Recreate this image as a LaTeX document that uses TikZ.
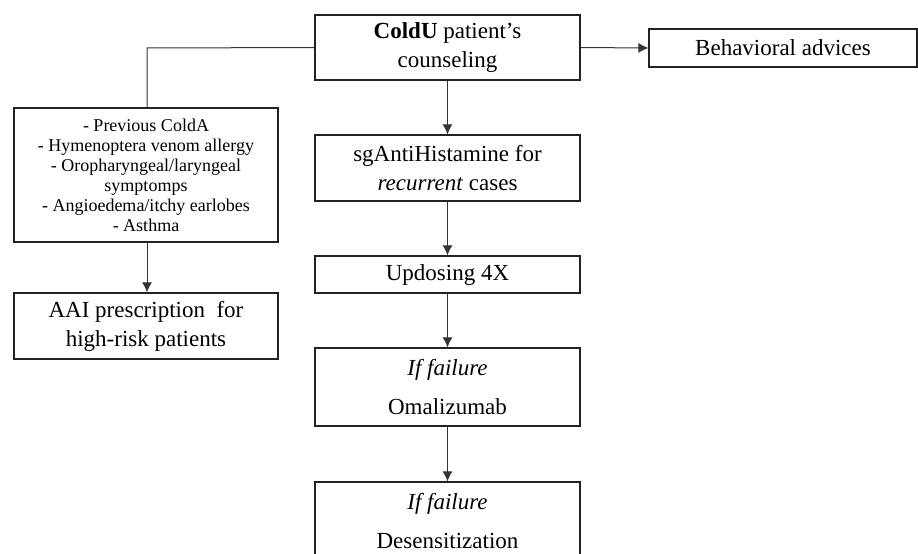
\documentclass[tikz,border=0pt]{standalone}
\usepackage{fontspec}
\setmainfont{Liberation Serif}
\usetikzlibrary{arrows.meta}
\definecolor{boxline}{HTML}{222222}
\definecolor{conn}{HTML}{333333}
\tikzset{
  flowbox/.style={draw=boxline, line width=1.3pt, fill=white, align=center, inner sep=0pt, font=\fontsize{23}{29}\selectfont},
  conline/.style={draw=conn, line width=1pt},
  conarrow/.style={conline, -{Latex[length=10pt,width=10pt]}},
}
\begin{document}
\begin{tikzpicture}[x=1pt,y=-1pt]
\useasboundingbox (0,0) rectangle (918,554);
\clip (0,0) rectangle (918,554);
\node[flowbox, minimum width=265pt, minimum height=65pt] (cold) at (447.5,47.5) {\textbf{ColdU} patient’s\\counseling};
\node[flowbox, minimum width=268pt, minimum height=38pt] (beh) at (783,48) {Behavioral advices};
\node[flowbox, minimum width=264pt, minimum height=134pt, font=\fontsize{18}{20}\selectfont] (risk) at (146,175) {- Previous ColdA\\- Hymenoptera venom allergy\\- Oropharyngeal/laryngeal\\symptomps\\- Angioedema/itchy earlobes\\- Asthma};
\node[flowbox, minimum width=264pt, minimum height=66pt] (aai) at (146,326) {AAI prescription\ \ for\\high-risk patients};
\node[flowbox, minimum width=265pt, minimum height=66pt] (sga) at (447.5,168) {sgAntiHistamine for\\\textit{recurrent} cases};
\node[flowbox, minimum width=265pt, minimum height=37pt] (upd) at (447.5,274.5) {Updosing 4X};
\node[flowbox, minimum width=265pt, minimum height=78pt] (oma) at (447.5,387) {\textit{If failure}\\[10pt]Omalizumab};
\node[flowbox, minimum width=265pt, minimum height=78pt] (des) at (447.5,521) {\textit{If failure}\\[10pt]Desensitization};
\coordinate (corner) at (147,48);
\draw[conline] (cold.west) -- (corner) -- (risk.north -| corner);
\draw[conarrow] (cold.east) -- (beh.west);
\draw[conarrow] (risk.south -| corner) -- (aai.north -| corner);
\draw[conarrow] (cold.south) -- (sga.north);
\draw[conarrow] (sga.south) -- (upd.north);
\draw[conarrow] (upd.south) -- (oma.north);
\draw[conarrow] (oma.south) -- (des.north);
\end{tikzpicture}
\end{document}
